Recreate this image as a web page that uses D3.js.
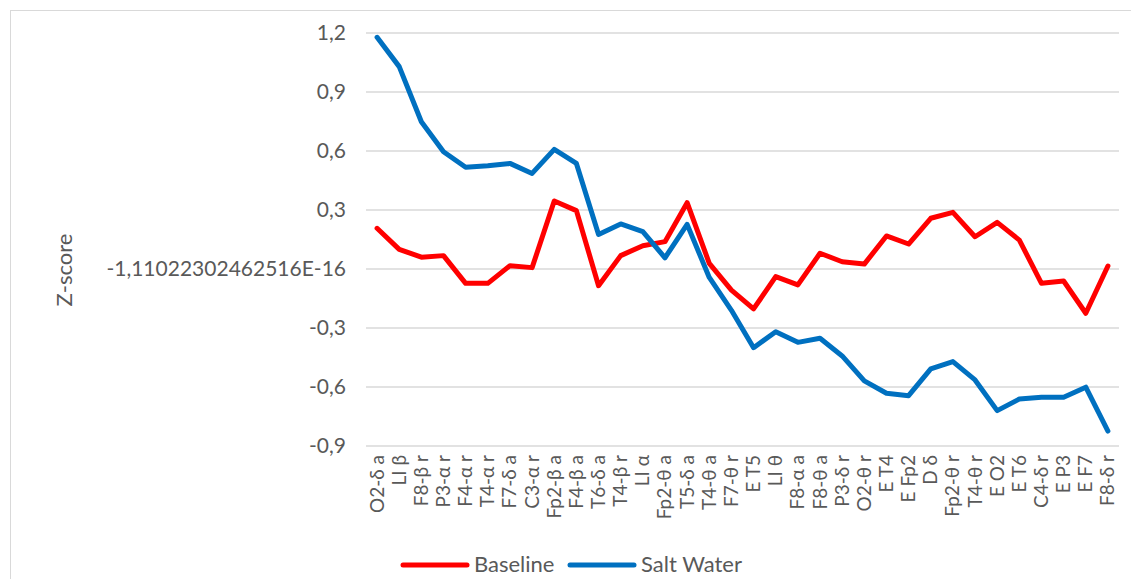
<!DOCTYPE html>
<html>
<head>
<meta charset="utf-8">
<script src="https://cdn.jsdelivr.net/npm/d3@7"></script>
<style>
  html, body { margin: 0; padding: 0; background: #ffffff; }
  svg { display: block; }
</style>
</head>
<body>
<svg id="chart" width="1131" height="579"></svg>
<script>
const categories = ["O2-δ a","LI β","F8-β r","P3-α r","F4-α r","T4-α r","F7-δ a","C3-α r","Fp2-β a","F4-β a","T6-δ a","T4-β r","LI α","Fp2-θ a","T5-δ a","T4-θ a","F7-θ r","E T5","LI θ","F8-α a","F8-θ a","P3-δ r","O2-θ r","E T4","E Fp2","D δ","Fp2-θ r","T4-θ r","E O2","E T6","C4-δ r","E P3","E F7","F8-δ r"];
const baseline = [0.207,0.100,0.060,0.068,-0.073,-0.073,0.017,0.007,0.346,0.297,-0.085,0.068,0.118,0.139,0.337,0.029,-0.107,-0.203,-0.039,-0.081,0.080,0.037,0.025,0.168,0.127,0.258,0.288,0.164,0.237,0.147,-0.073,-0.061,-0.225,0.015];
const saltWater = [1.178,1.029,0.749,0.596,0.517,0.525,0.537,0.486,0.608,0.537,0.176,0.229,0.190,0.057,0.227,-0.043,-0.210,-0.400,-0.319,-0.373,-0.352,-0.442,-0.569,-0.632,-0.644,-0.508,-0.471,-0.564,-0.720,-0.661,-0.652,-0.652,-0.601,-0.824];
const yTickValues = [1.2, 0.9, 0.6, 0.3, 0, -0.3, -0.6, -0.9];
const yTickLabels = ["1,2","0,9","0,6","0,3","-1,11022302462516E-16","-0,3","-0,6","-0,9"];
const seriesNames = ["Baseline", "Salt Water"];
const seriesColors = ["#ff0000", "#0070c0"];

(function () {
const svg = d3.select("#chart");
const font = "Lato, 'Open Sans', sans-serif";
const textColor = "#595959";

// chart area border
svg.append("rect").attr("x", 10.5).attr("y", 10.5).attr("width", 1140).attr("height", 600)
  .attr("fill", "none").attr("stroke", "#d9d9d9").attr("stroke-width", 1);

const pLeft = 366, pRight = 1119, pTop = 33, pBottom = 446;
const x = d3.scalePoint().domain(categories).range([pLeft, pRight]).padding(0.5);
const y = d3.scaleLinear().domain([-0.9, 1.2]).range([pBottom, pTop]);

// gridlines
svg.append("g").selectAll("line").data(yTickValues).join("line")
  .attr("x1", pLeft).attr("x2", pRight)
  .attr("y1", d => y(d)).attr("y2", d => y(d))
  .attr("stroke", "#d9d9d9").attr("stroke-width", 1.5);

// y axis labels
const yAxis = d3.axisLeft(y).tickValues(yTickValues)
  .tickFormat((d, i) => yTickLabels[i]).tickSize(0).tickPadding(20);
const yg = svg.append("g").attr("transform", `translate(${pLeft},0)`).call(yAxis);
yg.select(".domain").remove();
yg.selectAll("text").attr("font-family", font).attr("font-size", 21).attr("fill", textColor);

// x axis labels
const xAxis = d3.axisBottom(x).tickSize(0).tickPadding(0);
const xg = svg.append("g").attr("transform", `translate(0,${pBottom})`).call(xAxis);
xg.select(".domain").remove();
xg.selectAll("text")
  .attr("font-family", font).attr("font-size", 19).attr("fill", textColor)
  .attr("text-anchor", "end")
  .attr("dy", null).attr("y", 0)
  .attr("transform", "translate(6,9) rotate(-90)");

// y title
svg.append("text").attr("transform", "translate(72,270) rotate(-90)")
  .attr("text-anchor", "middle").attr("font-family", font).attr("font-size", 22)
  .attr("fill", textColor).text("Z-score");

// lines
const line = d3.line().x((d, i) => x(categories[i])).y(d => y(d));
[baseline, saltWater].forEach((s, k) => {
  svg.append("path").datum(s).attr("d", line)
    .attr("fill", "none").attr("stroke", seriesColors[k]).attr("stroke-width", 5)
    .attr("stroke-linejoin", "round").attr("stroke-linecap", "round");
});

// legend
const legendX = [403, 570];
legendX.forEach((lx, k) => {
  const g = svg.append("g").attr("transform", `translate(${lx},565)`);
  g.append("line").attr("x1", 0).attr("x2", 64).attr("y1", 0).attr("y2", 0)
    .attr("stroke", seriesColors[k]).attr("stroke-width", 5).attr("stroke-linecap", "round");
  g.append("text").attr("x", 71).attr("y", 7).attr("font-family", font).attr("font-size", 22)
    .attr("fill", textColor).text(seriesNames[k]);
});
})();
</script>
</body>
</html>
